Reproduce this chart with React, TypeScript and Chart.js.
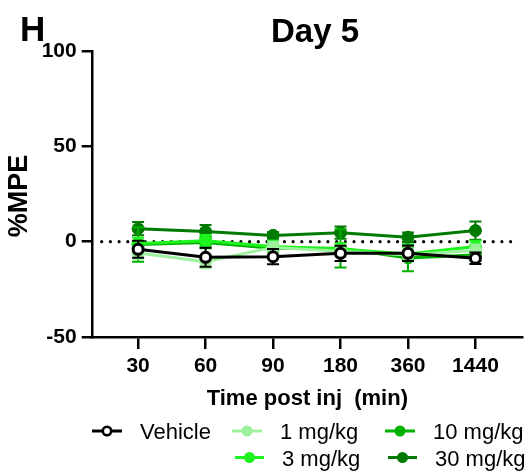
import React, { useEffect, useRef } from 'react';
import { Chart, registerables } from 'chart.js';

Chart.register(...registerables);

const timeLabels = ['30', '60', '90', '180', '360', '1440'];
const timeIndex = [1, 2, 3, 4, 5, 6];
const yTicks = [-50, 0, 50, 100];

const seriesNames = ['Vehicle', '1 mg/kg', '3 mg/kg', '10 mg/kg', '30 mg/kg'];
const seriesColors = ['#000000', '#9ef29e', '#1ef51e', '#00b000', '#007a00'];

const vehicleMean = [-4.0, -8.2, -7.9, -6.1, -6.1, -8.7];
const vehicleErr = [4.5, 5.0, 4.0, 4.0, 4.0, 3.0];
const mg1Mean = [-6.0, -10.5, -3.0, -5.0, -7.0, -4.5];
const mg1Err = [3.0, 3.5, 3.0, 3.0, 3.0, 3.0];
const mg3Mean = [-1.0, 0.5, -2.5, -3.8, -6.5, -2.5];
const mg3Err = [3.0, 3.0, 3.0, 3.0, 3.0, 3.0];
const mg10Mean = [-1.5, -0.5, -3.5, -3.5, -8.5, -7.0];
const mg10Err = [9.0, 3.0, 4.0, 10.0, 7.0, 3.0];
const mg30Mean = [6.8, 5.3, 3.3, 4.7, 2.3, 5.8];
const mg30Err = [3.5, 3.5, 1.8, 3.2, 2.5, 4.8];

const means = [vehicleMean, mg1Mean, mg3Mean, mg10Mean, mg30Mean];
const errs = [vehicleErr, mg1Err, mg3Err, mg10Err, mg30Err];

const FONT = "'Liberation Sans', Arial, Helvetica, sans-serif";

const errorBarPlugin = {
  id: 'errorBars',
  beforeDatasetDraw(chart: any, args: any) {
    const i = args.index;
    const ctx = chart.ctx;
    const xs = chart.scales.x;
    const ys = chart.scales.y;
    const m = means[i];
    const e = errs[i];
    ctx.save();
    ctx.strokeStyle = seriesColors[i];
    ctx.lineWidth = 2;
    for (let k = 0; k < m.length; k++) {
      const px = xs.getPixelForValue(timeIndex[k]);
      const yt = ys.getPixelForValue(m[k] + e[k]);
      const yb = ys.getPixelForValue(m[k] - e[k]);
      ctx.beginPath();
      ctx.moveTo(px, yt);
      ctx.lineTo(px, yb);
      ctx.moveTo(px - 6, yt);
      ctx.lineTo(px + 6, yt);
      ctx.moveTo(px - 6, yb);
      ctx.lineTo(px + 6, yb);
      ctx.stroke();
    }
    ctx.restore();
  },
};

const zeroLinePlugin = {
  id: 'zeroLine',
  beforeDatasetsDraw(chart: any) {
    const ctx = chart.ctx;
    const ys = chart.scales.y;
    const { left, right } = chart.chartArea;
    const y = ys.getPixelForValue(0);
    ctx.save();
    ctx.strokeStyle = '#000';
    ctx.lineWidth = 3.2;
    ctx.lineCap = 'round';
    ctx.setLineDash([0, 8.7]);
    ctx.beginPath();
    ctx.moveTo(left + 9, y);
    ctx.lineTo(right - 9, y);
    ctx.stroke();
    ctx.restore();
  },
};

const textPlugin = {
  id: 'texts',
  afterDraw(chart: any) {
    const ctx = chart.ctx;
    const { left, right } = chart.chartArea;
    ctx.save();
    ctx.fillStyle = '#000';
    ctx.textBaseline = 'alphabetic';
    // panel letter
    ctx.font = `bold 35px ${FONT}`;
    ctx.textAlign = 'left';
    ctx.fillText('H', 20, 41);
    // title
    ctx.font = `bold 33px ${FONT}`;
    ctx.textAlign = 'center';
    ctx.fillText('Day 5', 315, 42);
    // x title
    ctx.font = `bold 22px ${FONT}`;
    ctx.fillText('Time post inj  (min)', (left + right) / 2, 405);
    // y title
    ctx.save();
    ctx.translate(27, 196);
    ctx.rotate(-Math.PI / 2);
    ctx.font = `bold 27px ${FONT}`;
    ctx.textAlign = 'center';
    ctx.fillText('%MPE', 0, 0);
    ctx.restore();

    // legend
    const entries = [
      { i: 0, x1: 92, x2: 122, y: 431, tx: 140 },
      { i: 1, x1: 232, x2: 262, y: 431, tx: 280 },
      { i: 3, x1: 385, x2: 415, y: 431, tx: 433 },
      { i: 2, x1: 235, x2: 264, y: 457.5, tx: 282 },
      { i: 4, x1: 388, x2: 417, y: 457.5, tx: 435 },
    ];
    ctx.font = `22px ${FONT}`;
    ctx.textAlign = 'left';
    for (const en of entries) {
      const col = seriesColors[en.i];
      ctx.strokeStyle = col;
      ctx.lineWidth = 3;
      ctx.beginPath();
      ctx.moveTo(en.x1, en.y);
      ctx.lineTo(en.x2, en.y);
      ctx.stroke();
      const cx = (en.x1 + en.x2) / 2;
      ctx.beginPath();
      if (en.i === 0) {
        ctx.arc(cx, en.y, 4.2, 0, Math.PI * 2);
        ctx.fillStyle = '#fff';
        ctx.fill();
        ctx.lineWidth = 2.6;
        ctx.strokeStyle = '#000';
        ctx.stroke();
      } else {
        ctx.arc(cx, en.y, 5.5, 0, Math.PI * 2);
        ctx.fillStyle = col;
        ctx.fill();
      }
      ctx.fillStyle = '#000';
      ctx.fillText(seriesNames[en.i], en.tx, en.y + 8);
    }
    ctx.restore();
  },
};

export default function App() {
  const ref = useRef<HTMLCanvasElement | null>(null);

  useEffect(() => {
    if (!ref.current) return;
    const datasets = seriesNames.map((name, i) => {
      const isVehicle = i === 0;
      return {
        label: name,
        data: means[i].map((v, k) => ({ x: timeIndex[k], y: v })),
        borderColor: seriesColors[i],
        backgroundColor: seriesColors[i],
        borderWidth: 3,
        pointRadius: isVehicle ? 5 : 6,
        pointBorderWidth: isVehicle ? 3 : 1,
        pointBackgroundColor: isVehicle ? '#ffffff' : seriesColors[i],
        pointBorderColor: seriesColors[i],
        tension: 0,
        clip: false as any,
      };
    });

    const chart = new Chart(ref.current, {
      type: 'line',
      data: { datasets },
      options: {
        animation: false,
        responsive: false,
        devicePixelRatio: 1,
        layout: { padding: { top: 51, right: 6, bottom: 0, left: 0 } },
        plugins: {
          legend: { display: false },
          tooltip: { enabled: false },
          title: { display: false },
        },
        scales: {
          x: {
            type: 'linear',
            min: 0.327,
            max: 6.69,
            afterBuildTicks: (s: any) => {
              s.ticks = timeIndex.map((v) => ({ value: v }));
            },
            afterFit: (s: any) => {
              s.height = 137;
            },
            ticks: {
              autoSkip: false,
              maxRotation: 0,
              padding: 5,
              color: '#000',
              font: { family: FONT, size: 21, weight: 'bold' },
              callback: (v: any) => timeLabels[timeIndex.indexOf(Number(v))] ?? '',
            },
            grid: {
              drawOnChartArea: false,
              drawTicks: true,
              tickLength: 12,
              color: '#000',
              lineWidth: 2.5,
            },
            border: { display: true, color: '#000', width: 2.5 },
          },
          y: {
            type: 'linear',
            min: -50,
            max: 100,
            afterBuildTicks: (s: any) => {
              s.ticks = yTicks.map((v) => ({ value: v }));
            },
            afterFit: (s: any) => {
              s.width = 92.7;
            },
            ticks: {
              padding: 5,
              color: '#000',
              font: { family: FONT, size: 21, weight: 'bold' },
            },
            grid: {
              drawOnChartArea: false,
              drawTicks: true,
              tickLength: 11,
              color: '#000',
              lineWidth: 2.5,
            },
            border: { display: true, color: '#000', width: 2.5 },
          },
        },
      },
      plugins: [errorBarPlugin, zeroLinePlugin, textPlugin],
    });
    return () => chart.destroy();
  }, []);

  return (
    <div style={{ position: 'absolute', left: 0, top: 0, width: 530, height: 474, background: '#fff' }}>
      <canvas ref={ref} width={530} height={474} style={{ width: 530, height: 474, display: 'block' }} />
    </div>
  );
}
